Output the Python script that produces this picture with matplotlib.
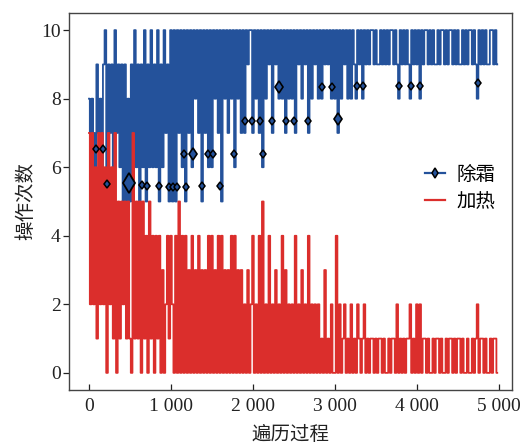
import numpy as np
import matplotlib
matplotlib.use("Agg")
import matplotlib.pyplot as plt
from matplotlib.lines import Line2D

# Operation counts per episode.
# One character = one sample every 20 episodes, "a" stands for 10.
STEP = 20
DEFROST_CODES = (
    "8787697869" "a59796a796" "95958595a6" "9596a596a6" "96a596a795"
    "a5a5a7a6a5" "a7a6a8a7a5" "a7a6a6a8a7" "a5a8a7a8a6" "a8a7a7a9aa"
    "7a8a7a6a8a" "9a7a9a8a8a" "7a8a8a7a9a" "8a9a7a8a9a" "8a8a9a9a8a"
    "8a7a8a9a8a" "8a98a9a8a9" "a9aa9a99a9" "a9a9aa9a98" "a9a9a98a9a"
    "9a8a9aa9a9" "a99a9aa9a9" "aa9a9a99a9" "a9aa9a98a9" "a9a99aa9a9"
)
HEATING_CODES = (
    "7272617272" "6072617051" "5251510715" "1505140514" "0414030241"
    "4204050404" "0304030403" "0304040304" "0403030404" "0303020302"
    "4020405020" "4020302040" "3020204020" "3020402020" "2010301020"
    "0402012010" "2010210120" "1011010110" "1001011020" "1010112010"
    "2020110100" "1011010010" "1101011010" "0100101201" "1010010110"
)

# diamond markers on the defrost curve (episode, value)
MARK_X = [85, 167, 215, 641, 702, 849, 979, 1028, 1077, 1178, 1374, 1598,
          1159, 1455, 1516, 1768, 2126,
          1902, 1992, 2085, 2228, 2398, 2504, 2675,
          2845, 2959, 3264, 3345, 3785, 3923, 4037, 4744]
MARK_Y = [6.52, 6.52, 5.5, 5.48, 5.45, 5.45, 5.42, 5.42, 5.42, 5.42, 5.45, 5.45,
          6.4, 6.4, 6.4, 6.4, 6.4,
          7.35, 7.35, 7.35, 7.35, 7.35, 7.35, 7.35,
          8.35, 8.35, 8.38, 8.38, 8.38, 8.38, 8.38, 8.47]
BIG_X = [1272, 2321, 3033]
BIG_Y = [6.4, 8.35, 7.4]
HUGE_X = [491]
HUGE_Y = [5.55]

XTICKS = [0, 1000, 2000, 3000, 4000, 5000]
XTICK_LABELS = ["0", "1 000", "2 000", "3 000", "4 000", "5 000"]
YTICKS = [0, 2, 4, 6, 8, 10]

BLUE = "#24529b"
RED = "#db2e2c"


def decode(codes):
    return np.array([10 if c == "a" else int(c) for c in codes])


def main() -> None:
    plt.rcParams["font.family"] = ["Liberation Serif", "Noto Sans CJK SC"]

    defrost = decode(DEFROST_CODES)
    heating = decode(HEATING_CODES)
    x = np.arange(len(defrost)) * STEP

    fig = plt.figure(figsize=(5.27, 4.45), dpi=100)
    ax = fig.add_axes([0.130, 0.1236, 0.8415, 0.8472])

    ax.plot(x, defrost, color=BLUE, lw=1.3, drawstyle="steps-mid", snap=False)
    ax.plot(x, heating, color=RED, lw=1.3, drawstyle="steps-mid", snap=False)

    mk = dict(ls="none", marker="d", mfc=BLUE, mec="black", zorder=4)
    ax.plot(MARK_X, MARK_Y, ms=4.5, mew=1.1, **mk)
    ax.plot(BIG_X, BIG_Y, ms=6, mew=1.2, **mk)
    ax.plot(HUGE_X, HUGE_Y, ms=10, mew=1.3, **mk)

    ax.set_xlim(-250, 5160)
    ax.set_ylim(-0.5, 10.5)
    ax.set_xticks(XTICKS)
    ax.set_xticklabels(XTICK_LABELS)
    ax.set_yticks(YTICKS)
    ax.tick_params(axis="x", direction="in", length=4, width=0.9,
                   pad=6, labelsize=14, colors="#222222")
    ax.tick_params(axis="y", direction="out", length=4, width=0.9,
                   pad=1.5, labelsize=14, colors="#222222")
    for sp in ax.spines.values():
        sp.set_color("#444444")
        sp.set_linewidth(1.0)

    ax.set_xlabel("遍历过程", fontsize=14, labelpad=8, color="#222222")
    ax.set_ylabel("操作次数", fontsize=14, labelpad=4, color="#222222")

    handles = [
        Line2D([], [], color=BLUE, lw=1.6, marker="d", ms=5.5,
               mfc=BLUE, mec="black", mew=1.1),
        Line2D([], [], color=RED, lw=1.6),
    ]
    ax.legend(handles, ["除霜", "加热"], loc="center left",
              bbox_to_anchor=(0.765, 0.535), frameon=False, fontsize=14,
              handlelength=1.0, handletextpad=0.6, labelspacing=0.45)

    fig.savefig("out.png", dpi=100)
    plt.close(fig)


if __name__ == "__main__":
    main()
